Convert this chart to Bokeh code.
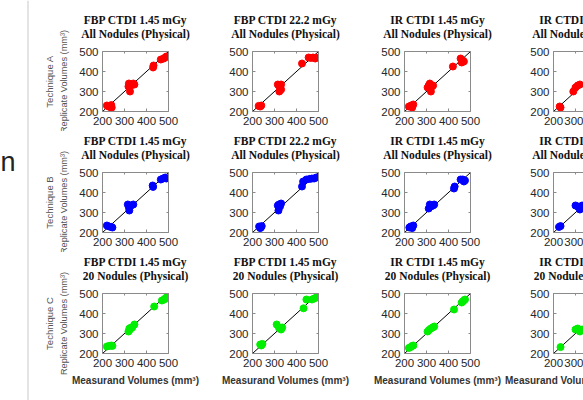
from bokeh.plotting import figure
from bokeh.models import Range1d, FixedTicker, Label, Span, LinearAxis, Title
from bokeh.layouts import row, column
from bokeh.embed import file_html
from bokeh.resources import INLINE

# ---------------- data ----------------
technique_labels = ["Technique A", "Technique B", "Technique C"]
title_line1 = [
    ["FBP CTDI 1.45 mGy", "FBP CTDI 22.2 mGy", "IR CTDI 1.45 mGy", "IR CTDI 22.2 mGy"],
    ["FBP CTDI 1.45 mGy", "FBP CTDI 22.2 mGy", "IR CTDI 1.45 mGy", "IR CTDI 22.2 mGy"],
    ["FBP CTDI 1.45 mGy", "FBP CTDI 1.45 mGy", "IR CTDI 1.45 mGy", "IR CTDI 22.2 mGy"],
]
title_line2 = ["All Nodules (Physical)", "All Nodules (Physical)", "20 Nodules (Physical)"]
point_colors = ["#ff0000", "#0000ff", "#00ee00"]
tick_values = [200, 300, 400, 500]
identity_line = [200, 500]
y_axis_title = "Replicate Volumes (mm\u00b3)"
x_axis_title = "Measurand Volumes (mm\u00b3)"

# Technique A (red)
a1_x = [220, 228, 235, 242, 240, 318, 320, 325, 330, 340, 345, 430, 432, 465, 478, 485, 490]
a1_y = [230, 225, 222, 220, 232, 325, 340, 300, 330, 340, 335, 420, 430, 460, 465, 470, 475]
a2_x = [228, 235, 240, 315, 320, 325, 330, 322, 330, 425, 455, 465, 475, 485, 490]
a2_y = [228, 225, 230, 335, 330, 320, 310, 300, 335, 440, 470, 468, 470, 465, 470]
a3_x = [220, 230, 235, 240, 305, 310, 315, 320, 325, 330, 420, 455, 465, 470, 460]
a3_y = [225, 230, 220, 235, 320, 330, 340, 300, 325, 330, 425, 465, 455, 450, 445]
a4_x = [232, 228, 290, 300, 310, 320, 430, 470]
a4_y = [220, 225, 300, 320, 330, 335, 430, 460]
# Technique B (blue)
b1_x = [220, 230, 240, 245, 315, 320, 322, 330, 340, 428, 430, 465, 475, 485, 490]
b1_y = [235, 230, 228, 225, 340, 325, 310, 335, 340, 435, 428, 465, 470, 475, 470]
b2_x = [230, 238, 242, 235, 315, 320, 325, 330, 318, 425, 430, 445, 460, 470, 480, 490]
b2_y = [230, 225, 232, 222, 335, 340, 330, 345, 310, 430, 455, 465, 468, 470, 470, 475]
b3_x = [222, 228, 235, 240, 310, 315, 320, 330, 335, 425, 428, 455, 465, 470, 475]
b3_y = [225, 230, 222, 235, 320, 340, 330, 335, 340, 420, 430, 465, 465, 455, 460]
b4_x = [225, 232, 300, 310, 320, 330, 430, 470]
b4_y = [228, 232, 335, 330, 315, 335, 430, 465]
# Technique C (green)
c1_x = [220, 230, 240, 245, 318, 322, 325, 330, 335, 345, 435, 470, 480, 485, 490]
c1_y = [235, 238, 240, 238, 310, 325, 320, 330, 330, 345, 435, 465, 470, 475, 480]
c2_x = [235, 240, 245, 310, 320, 325, 335, 330, 432, 445, 470, 480, 490]
c2_y = [245, 240, 248, 345, 330, 325, 330, 320, 426, 470, 470, 475, 480]
c3_x = [220, 228, 235, 240, 305, 312, 320, 328, 335, 425, 460, 465, 470, 475]
c3_y = [228, 232, 238, 240, 310, 318, 325, 330, 335, 420, 455, 460, 465, 470]
c4_x = [232, 300, 310, 320, 330, 430, 470]
c4_y = [232, 320, 325, 310, 320, 430, 465]

panel_x = [[a1_x, a2_x, a3_x, a4_x], [b1_x, b2_x, b3_x, b4_x], [c1_x, c2_x, c3_x, c4_x]]
panel_y = [[a1_y, a2_y, a3_y, a4_y], [b1_y, b2_y, b3_y, b4_y], [c1_y, c2_y, c3_y, c4_y]]

# ---------------- layout / style ----------------
STRIP_W = 40
COLS = [(162, 62, 34), (151, 50, 35), (152, 51, 35), (78, 48, 0)]   # width, border left, border right
ROWS = [(131, 51, 20), (121, 41, 20), (148, 41, 47)]                # height, border top, border bottom
FULL_FRAME_W = 66
BOX = "#8a8a8a"
TICK_TXT = "#262626"
SANS = "Liberation Sans"
SERIF = "Liberation Serif"
TITLE_SIZE = 11.5
# approximate Times-bold advance widths (em) used only to centre clipped titles
EM = {"A": .722, "B": .667, "C": .722, "D": .722, "F": .611, "G": .778, "I": .389, "N": .722,
      "P": .611, "R": .722, "T": .667, "a": .5, "c": .444, "d": .556, "e": .444, "h": .556,
      "i": .278, "l": .278, "m": .833, "o": .5, "s": .389, "u": .556, "y": .5, " ": .25,
      ".": .25, "(": .333, ")": .333}


def text_w(t):
    return sum(EM.get(ch, .5) for ch in t) * TITLE_SIZE


def style_axis(ax, standoff):
    ax.ticker = FixedTicker(ticks=tick_values)
    ax.major_tick_in = 3
    ax.major_tick_out = 0
    ax.minor_tick_line_color = None
    ax.axis_line_color = BOX
    ax.major_tick_line_color = BOX
    ax.major_label_text_font = SANS
    ax.major_label_text_font_size = "11.5px"
    ax.major_label_text_color = TICK_TXT
    ax.major_label_standoff = standoff


def hidden_labels(ax):
    ax.major_label_text_font_size = "0px"
    ax.major_label_text_color = None


def panel(r, c):
    w, bl, br = COLS[c]
    h, bt, bb = ROWS[r]
    fw = w - bl - br
    xpp = 300.0 / FULL_FRAME_W
    p = figure(width=w, height=h, x_range=Range1d(200, 200 + fw * xpp),
               y_range=Range1d(200, 500), output_backend="svg", toolbar_location=None,
               min_border_left=bl, min_border_right=br, min_border_top=bt,
               min_border_bottom=bb)
    p.outline_line_color = None
    p.grid.visible = False
    p.background_fill_color = "white"
    p.border_fill_color = "white"
    xax = p.xaxis[0]
    yax = p.yaxis[0]
    style_axis(xax, 5)
    style_axis(yax, 4)
    # mirrored box edges with small inward ticks
    for loc in (["above", "right"] if c < 3 else ["above"]):
        ax = LinearAxis()
        style_axis(ax, 0)
        ax.major_tick_in = 2
        hidden_labels(ax)
        p.add_layout(ax, loc)
    # invisible spacer between the box and the title lines
    spacer = LinearAxis()
    style_axis(spacer, 0)
    spacer.major_tick_in = 0
    spacer.major_tick_out = 12
    spacer.major_tick_line_color = None
    spacer.axis_line_color = None
    hidden_labels(spacer)
    p.add_layout(spacer, "above")
    if c == 0:
        yax.axis_label = y_axis_title
        yax.axis_label_text_font = SANS
        yax.axis_label_text_font_size = "9.2px"
        yax.axis_label_text_font_style = "normal"
        yax.axis_label_text_color = "#555555"
        yax.axis_label_standoff = 7
        p.add_layout(Title(text=technique_labels[r], align="center", standoff=3,
                           text_font=SANS, text_font_size="9.5px",
                           text_font_style="normal", text_color="#555555"), "left")
    if r == 2:
        xax.axis_label = x_axis_title
        xax.axis_label_text_font = SANS
        xax.axis_label_text_font_size = "10px"
        xax.axis_label_text_font_style = "bold"
        xax.axis_label_text_color = "#333333"
        xax.axis_label_standoff = 5
    for txt in (title_line2[r], title_line1[r][c]):
        kw = dict(align="center")
        if fw < FULL_FRAME_W:
            kw = dict(align="left", offset=FULL_FRAME_W / 2.0 - text_w(txt) / 2.0)
        p.add_layout(Title(text=txt, standoff=0, text_font=SERIF, text_font_style="bold",
                           text_font_size="%gpx" % TITLE_SIZE, text_color="#111111", **kw),
                     "above")
    p.line(identity_line, identity_line, line_color="black", line_width=1)
    p.scatter(panel_x[r][c], panel_y[r][c], size=7, marker="circle",
              fill_color=point_colors[r], line_color=point_colors[r])
    return p


TOTAL_H = sum(rw[0] for rw in ROWS)
strip = figure(width=STRIP_W, height=TOTAL_H, x_range=Range1d(0, STRIP_W),
               y_range=Range1d(0, TOTAL_H), x_axis_location=None, y_axis_location=None,
               min_border=0, output_backend="svg", toolbar_location=None)
strip.outline_line_color = None
strip.grid.visible = False
strip.add_layout(Span(location=27.5, dimension="height", line_color="#c8c8c8", line_width=1))
strip.add_layout(Label(x=0, y=TOTAL_H - 161, text="n", text_font=SANS, text_font_size="27px",
                       text_color="#222222", text_baseline="alphabetic"))

grid_rows = [row(*[panel(r, c) for c in range(4)]) for r in range(3)]
layout = row(strip, column(*grid_rows))

open("out.html", "w").write(file_html(layout, INLINE))
